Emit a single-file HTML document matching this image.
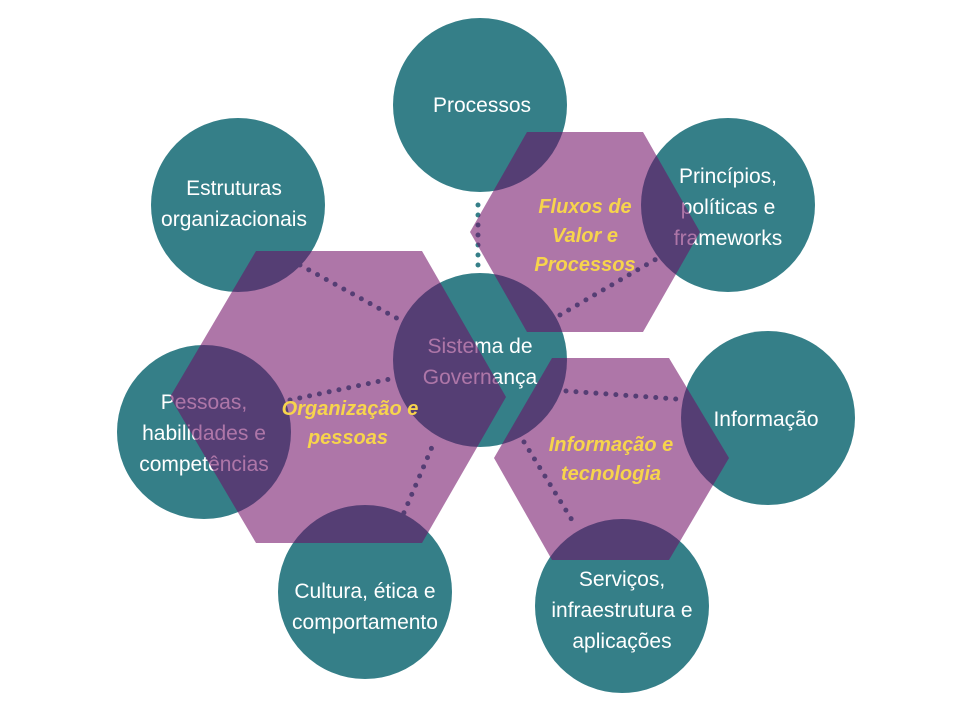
<!DOCTYPE html>
<html><head><meta charset="utf-8"><style>
html,body{margin:0;padding:0;background:#fff;}
svg{display:block;}
.c{fill:#357f88;}
.t{font-family:"Liberation Sans",sans-serif;font-size:21px;fill:#fff;text-anchor:middle;}
.h{fill:rgba(110,10,100,0.56);}
.l{stroke:#357f88;stroke-width:5;stroke-linecap:round;stroke-dasharray:0 10;fill:none;}
.y{font-family:"Liberation Sans",sans-serif;font-size:20px;font-weight:bold;font-style:italic;fill:#f7d44c;text-anchor:middle;}
</style></head><body>
<svg width="960" height="720" viewBox="0 0 960 720">
<circle class="c" cx="480" cy="105" r="87"/>
<circle class="c" cx="238" cy="205" r="87"/>
<circle class="c" cx="728" cy="205" r="87"/>
<circle class="c" cx="480" cy="360" r="87"/>
<circle class="c" cx="204" cy="432" r="87"/>
<circle class="c" cx="768" cy="418" r="87"/>
<circle class="c" cx="365" cy="592" r="87"/>
<circle class="c" cx="622" cy="606" r="87"/>
<line class="l" x1="478" y1="205" x2="478" y2="272"/>
<line class="l" x1="300" y1="265" x2="400" y2="320"/>
<line class="l" x1="560" y1="315" x2="658" y2="258"/>
<line class="l" x1="290" y1="400" x2="395" y2="378"/>
<line class="l" x1="400" y1="522" x2="435" y2="440"/>
<line class="l" x1="566" y1="391" x2="690" y2="400"/>
<line class="l" x1="524" y1="442" x2="575" y2="525"/>
<text class="t" x="482" y="112">Processos</text>
<text class="t" x="234" y="195">Estruturas</text>
<text class="t" x="234" y="226">organizacionais</text>
<text class="t" x="728" y="183">Princípios,</text>
<text class="t" x="728" y="214">políticas e</text>
<text class="t" x="728" y="245">frameworks</text>
<text class="t" x="480" y="353">Sistema de</text>
<text class="t" x="480" y="384">Governança</text>
<text class="t" x="204" y="409">Pessoas,</text>
<text class="t" x="204" y="440">habilidades e</text>
<text class="t" x="204" y="471">competências</text>
<text class="t" x="766" y="426">Informação</text>
<text class="t" x="365" y="598">Cultura, ética e</text>
<text class="t" x="365" y="629">comportamento</text>
<text class="t" x="622" y="586">Serviços,</text>
<text class="t" x="622" y="617">infraestrutura e</text>
<text class="t" x="622" y="648">aplicações</text>
<polygon class="h" points="256,251 422,251 506,397 422,543 256,543 170,397"/>
<polygon class="h" points="527,132 643,132 700,232 643,332 527,332 470,232"/>
<polygon class="h" points="552,358 669,358 729,458 669,560 552,560 494,458"/>
<text class="y" x="350" y="415">Organização e</text>
<text class="y" x="348" y="444">pessoas</text>
<text class="y" x="585" y="213">Fluxos de</text>
<text class="y" x="585" y="242">Valor e</text>
<text class="y" x="585" y="271">Processos</text>
<text class="y" x="611" y="451">Informação e</text>
<text class="y" x="611" y="480">tecnologia</text>
</svg>
</body></html>
